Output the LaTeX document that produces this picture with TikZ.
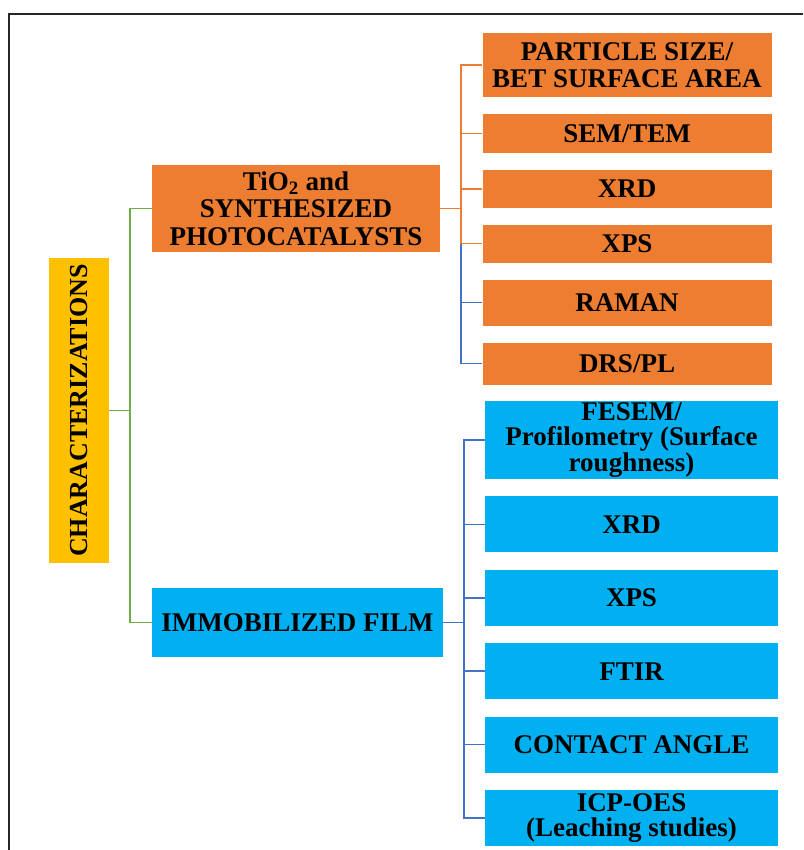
\documentclass[tikz,border=0pt]{standalone}
\usepackage{fontspec}
\setmainfont{Liberation Serif}
\usetikzlibrary{positioning}
\definecolor{RootYellow}{RGB}{255,192,0}
\definecolor{BoxOrange}{RGB}{237,125,49}
\definecolor{BoxBlue}{RGB}{0,176,240}
\definecolor{LineGreen}{RGB}{112,173,71}
\definecolor{LineOrange}{RGB}{237,125,49}
\definecolor{LineBlue}{RGB}{68,114,196}
\newcommand{\boxfont}{\bfseries\fontsize{27}{26.5}\selectfont}
\tikzset{
  rootbox/.style={fill=RootYellow,minimum width=305pt,minimum height=60pt,
    inner sep=0pt,align=center,font=\bfseries\fontsize{26}{26}\selectfont},
  groupbox/.style={inner sep=0pt,align=center,font=\boxfont},
  orangecell/.style={fill=BoxOrange,minimum width=289pt,minimum height=38pt,
    inner sep=0pt,align=center,font=\boxfont},
  bluecell/.style={fill=BoxBlue,minimum width=293pt,minimum height=56pt,
    inner sep=0pt,align=center,font=\bfseries\fontsize{27}{25.5}\selectfont},
  greenline/.style={line width=1.5pt,LineGreen},
  orangeline/.style={line width=1.5pt,LineOrange},
  blueline/.style={line width=1.5pt,LineBlue}
}
\begin{document}
\begin{tikzpicture}[x=1pt,y=-1pt,node distance=16.5pt]
  \useasboundingbox (0,0) rectangle (803,850);
  \draw[line width=2.2pt,black!85] (803,14) -- (9,14) -- (9,850);
  \node[rootbox,rotate=90] (char) at (79,410.5) {CHARACTERIZATIONS};
  \node[groupbox,fill=BoxOrange,minimum width=288pt,minimum height=87pt,
    font=\bfseries\fontsize{27}{27.5}\selectfont] (tio) at (296,208.5) {TiO\textsubscript{2} and\\SYNTHESIZED\\PHOTOCATALYSTS};
  \node[groupbox,fill=BoxBlue,minimum width=291pt,minimum height=69pt] (film) at (297.5,622.5) {IMMOBILIZED FILM};
  % orange column
  \node[orangecell,minimum height=64pt] (p1) at (627,65) {PARTICLE SIZE/\\BET SURFACE AREA};
  \node[orangecell,minimum height=39pt,below=of p1] (p2) {SEM/TEM};
  \node[orangecell,below=of p2] (p3) {XRD};
  \node[orangecell,below=of p3] (p4) {XPS};
  \node[orangecell,minimum height=46pt,below=of p4] (p5) {RAMAN};
  \node[orangecell,minimum height=42pt,below=of p5] (p6) {DRS/PL};
  % blue column
  \node[bluecell,minimum height=78pt] (f1) at (631.5,440) {FESEM/\\Profilometry (Surface\\roughness)};
  \node[bluecell,below=17pt of f1] (f2) {XRD};
  \node[bluecell,below=17pt of f2] (f3) {XPS};
  \node[bluecell,below=17pt of f3] (f4) {FTIR};
  \node[bluecell,below=17pt of f4] (f5) {CONTACT ANGLE};
  \node[bluecell,below=17pt of f5] (f6) {ICP-OES\\(Leaching studies)};
  % connectors
  \draw[greenline] (char.south) -- ++(21,0) coordinate (gj);
  \draw[greenline] (tio.west) -| (gj) |- (film.west);
  \draw[orangeline] (tio.east) -- ++(21,0) coordinate (oj);
  \draw[orangeline] (p1.west) -| (oj) |- (p4.west);
  \foreach \n in {p2,p3}
    \draw[orangeline] (\n.west) -- (\n.west -| oj);
  \draw[blueline] (p4.west -| oj) |- (p6.west);
  \draw[blueline] (p5.west) -- (p5.west -| oj);
  \draw[blueline] (film.east) -- ++(21,0) coordinate (bj);
  \draw[blueline] (f1.west) -| (bj) |- (f6.west);
  \foreach \n in {f2,f3,f4,f5}
    \draw[blueline] (\n.west) -- (\n.west -| bj);
\end{tikzpicture}
\end{document}
